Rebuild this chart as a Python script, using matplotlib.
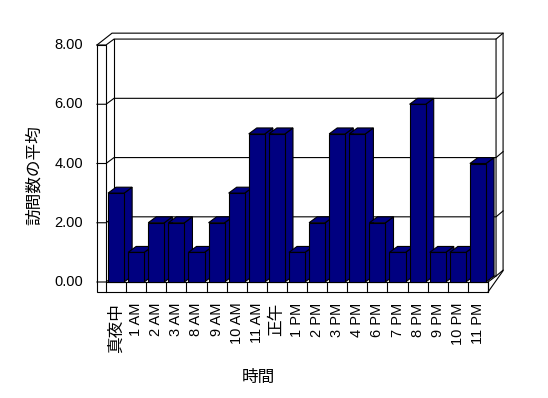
import matplotlib
matplotlib.use('Agg')
import matplotlib.pyplot as plt
from matplotlib.patches import Polygon

hours = ['真夜中', '1 AM', '2 AM', '3 AM', '8 AM', '9 AM', '10 AM', '11 AM', '正午',
         '1 PM', '2 PM', '3 PM', '4 PM', '6 PM', '7 PM', '8 PM', '9 PM', '10 PM', '11 PM']
visits = [3, 1, 2, 2, 1, 2, 3, 5, 5, 1, 2, 5, 5, 2, 1, 6, 1, 1, 4]
y_ticks = [0, 2, 4, 6, 8]
y_labels = ['0.00', '2.00', '4.00', '6.00', '8.00']

FONT = ['Liberation Sans', 'Noto Sans CJK JP']
BAR = '#000080'
LW = 0.8

# depth offsets (data units) for the back wall plane and its outer edge
DX, DY = 0.4, 0.2
OX, OY = 0.75, 0.4
WALL = 0.45      # thickness of the left wall
FLOOR = 0.34     # thickness of the floor
n = len(hours)
x0, x1 = -0.5, n - 0.5
ymax = y_ticks[-1]

fig = plt.figure(figsize=(5.48, 3.98), dpi=100)
ax = fig.add_axes([106 / 548, 1 - 282 / 398, 382 / 548, 237 / 398])
ax.set_xlim(x0, x1)
ax.set_ylim(0, ymax)
ax.axis('off')


def line(xs, ys, z=1):
    ax.plot(xs, ys, color='black', lw=LW, clip_on=False, zorder=z,
            solid_joinstyle='miter')


# floor + left wall front face (white)
ax.add_patch(Polygon([(x0 - WALL, ymax), (x0, ymax), (x0, 0), (x1, 0), (x1, -FLOOR),
                      (x0 - WALL, -FLOOR)], closed=True, fc='white', ec='black',
                     lw=LW, clip_on=False, zorder=1))

# gridlines running over the left wall, back wall and right edge
for v in y_ticks:
    line([x0 - WALL, x0, x0 + DX, x1 + DX, x1 + OX], [v, v, v + DY, v + DY, v + OY])

# box outline
line([x0 - WALL, x0 - WALL + OX, x1 + OX, x1 + OX, x1],
     [ymax, ymax + OY, ymax + OY, OY - 0.02, -FLOOR])
line([x0 + DX, x0 + DX], [DY, ymax + DY])
line([x1, x1 + DX, x1 + DX], [0, DY, ymax + DY])

# floor ticks
for i in range(n + 1):
    line([x0 + i, x0 + i], [-FLOOR, 0], z=1)

# 3D bars
w = 0.8
for i, v in enumerate(visits):
    a, b = i - w / 2, i + w / 2
    z = 3 + i
    ax.add_patch(Polygon([(b, 0), (b + DX, DY), (b + DX, v + DY), (b, v)], closed=True,
                         fc=BAR, ec='black', lw=LW, clip_on=False, zorder=z))
    ax.add_patch(Polygon([(a, v), (a + DX, v + DY), (b + DX, v + DY), (b, v)], closed=True,
                         fc=BAR, ec='black', lw=LW, clip_on=False, zorder=z))
    ax.bar(i, v, width=w, color=BAR, edgecolor='black', linewidth=LW, zorder=z,
           clip_on=False)

# tick labels
for v, lab in zip(y_ticks, y_labels):
    ax.text(x0 - WALL - 0.7, v, lab, ha='right', va='center', fontsize=10.5,
            family=FONT)
for i, lab in enumerate(hours):
    size = 10.5 if lab.isascii() else 12
    ax.text(i, -FLOOR - 0.36, lab, rotation=90, ha='center', va='top', fontsize=size,
            family=FONT)

fig.text(34 / 548, 1 - 175 / 398, '訪問数の平均', rotation=90, ha='center', va='center',
         fontsize=12, family=FONT)
fig.text(258 / 548, 1 - 377 / 398, '時間', ha='center', va='center', fontsize=12,
         family=FONT)

fig.savefig('out.png', dpi=100, facecolor='white')
